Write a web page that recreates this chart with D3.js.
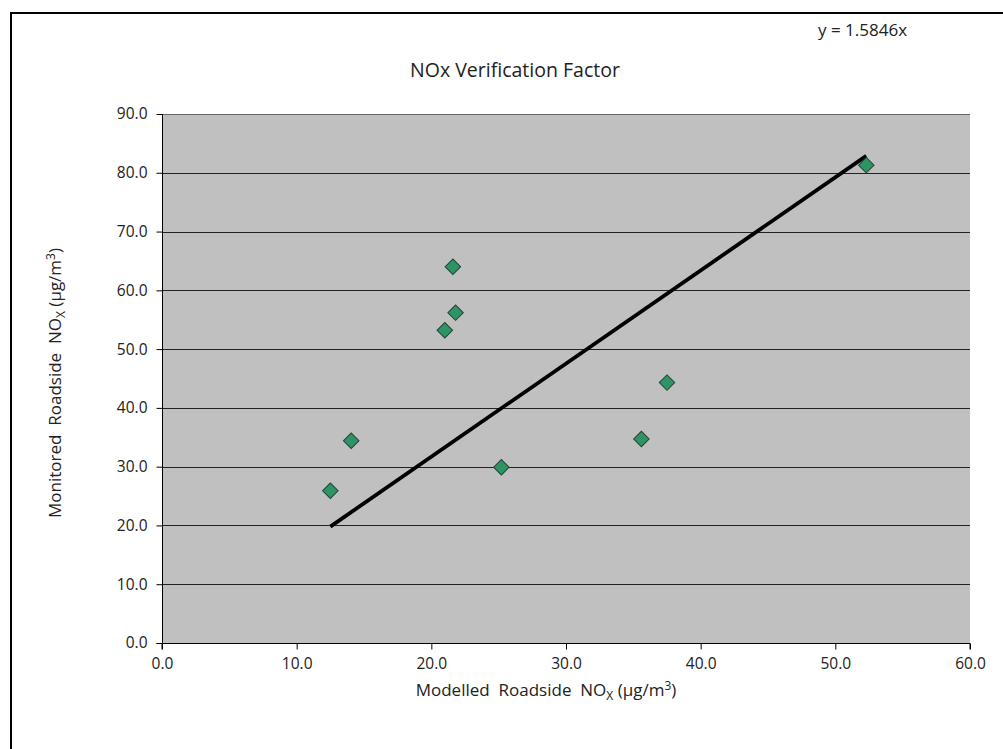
<!DOCTYPE html>
<html><head><meta charset="utf-8">
<script src="https://cdn.jsdelivr.net/npm/d3@7"></script>
<style>
body{margin:0;background:#fff;}
text{font-family:"Open Sans","Noto Sans",sans-serif;fill:#222;}
.pre{white-space:pre;}
</style></head>
<body><svg id="c" width="1003" height="749"></svg>
<script>
const modelled = [12.5, 14.05, 21.0, 21.6, 21.8, 25.2, 35.6, 37.5, 52.3];
const monitored = [25.9, 34.4, 53.2, 64.0, 56.2, 29.9, 34.7, 44.3, 81.3];
const slope = 1.5846;
const xTicks = [0,10,20,30,40,50,60];
const yTicks = [0,10,20,30,40,50,60,70,80,90];
const title = "NOx Verification Factor";
const eqLabel = "y = 1.5846x";

const svg = d3.select("#c");
svg.append("rect").attr("x",11).attr("y",13).attr("width",1010).attr("height",760)
  .attr("fill","#fff").attr("stroke","#000").attr("stroke-width",2);

const L=162,R=970,T=114,B=643;
const x = d3.scaleLinear().domain([0,60]).range([L,R]);
const y = d3.scaleLinear().domain([0,90]).range([B,T]);

svg.append("rect").attr("x",L).attr("y",T).attr("width",R-L).attr("height",B-T).attr("fill","#c0c0c0");

// gridlines
svg.append("g").selectAll("line").data(yTicks.filter(d=>d>0)).join("line")
  .attr("x1",L).attr("x2",R).attr("y1",d=>Math.round(y(d))+0.5).attr("y2",d=>Math.round(y(d))+0.5)
  .attr("stroke",d=>d===90?"#666":"#222").attr("stroke-width",1);

// axes
const yAxis = d3.axisLeft(y).tickValues(yTicks).tickFormat(d3.format(".1f")).tickSize(6).tickPadding(9);
const gy = svg.append("g").attr("transform",`translate(${L+0.5},0)`).call(yAxis);
const xAxis = d3.axisBottom(x).tickValues(xTicks).tickFormat(d3.format(".1f")).tickSize(6).tickPadding(8);
const gx = svg.append("g").attr("transform",`translate(0,${B+0.5})`).call(xAxis);
[gx,gy].forEach(g=>{
  g.attr("font-size",null).attr("font-family",null);
  g.select(".domain").attr("stroke","#000");
  g.selectAll(".tick line").attr("stroke","#000");
  g.selectAll(".tick text").style("font-size","15.5px").attr("fill","#222");
});
gy.select(".domain").attr("d",`M-6,${B+0.5}H0V${T}H0`);
gx.select(".domain").attr("d",`M${L},6V0H${R}V6`);

// trend line
const x0 = d3.min(modelled), x1 = d3.max(modelled);
svg.append("line").attr("x1",x(x0)).attr("y1",y(x0*slope)).attr("x2",x(x1)).attr("y2",y(x1*slope))
  .attr("stroke","#000").attr("stroke-width",3.8);

// points
const sym = d3.symbol().type(d3.symbolSquare).size(120);
svg.append("g").selectAll("path").data(modelled.map((m,i)=>[m,monitored[i]])).join("path")
  .attr("d",sym).attr("transform",d=>`translate(${x(d[0])},${y(d[1])}) rotate(45)`)
  .attr("fill","#2e9466").attr("stroke","#224433").attr("stroke-width",1);

// title
svg.append("text").attr("x",515).attr("y",77).attr("text-anchor","middle").style("font-size","19.5px").text(title);
svg.append("text").attr("x",818).attr("y",36).style("font-size","17px").text(eqLabel);

// axis titles
function axisTitle(sel, main){
  sel.append("tspan").text(main);
  sel.append("tspan").style("font-size","12px").attr("dy",4).text("X");
  sel.append("tspan").attr("dy",-4).text(" (µg/m");
  sel.append("tspan").style("font-size","12px").attr("dy",-6).text("3");
  sel.append("tspan").attr("dy",6).text(")");
}
const xt = svg.append("text").attr("class","pre").attr("x",546).attr("y",696).attr("text-anchor","middle").style("font-size","17px");
axisTitle(xt, "Modelled  Roadside  NO");
const yt = svg.append("text").attr("class","pre").attr("transform","translate(61,383) rotate(-90)").attr("text-anchor","middle").style("font-size","17px");
axisTitle(yt, "Monitored  Roadside  NO");
</script></body></html>
